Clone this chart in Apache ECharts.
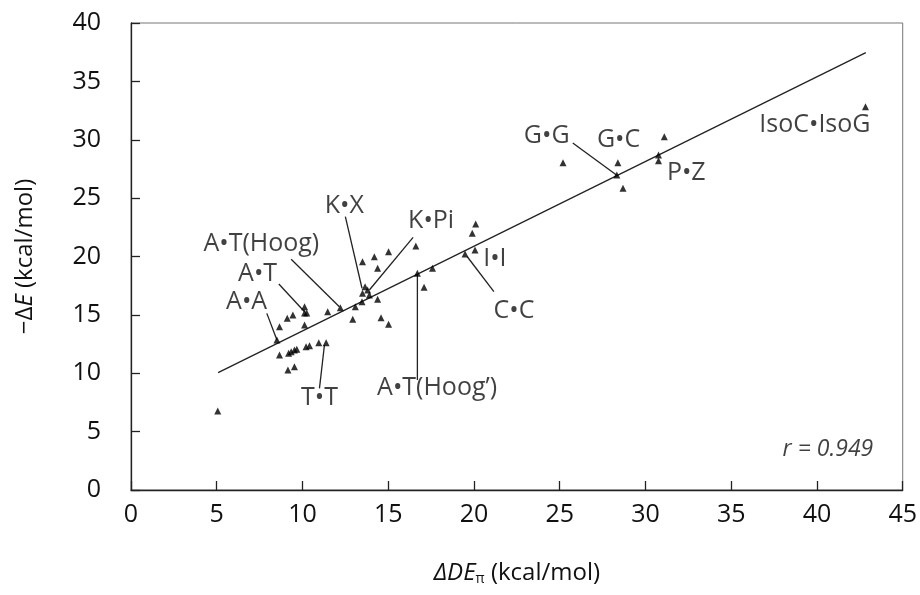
<!DOCTYPE html>
<html>
<head>
<meta charset="utf-8">
<script src="https://cdn.jsdelivr.net/npm/echarts@6/dist/echarts.min.js"></script>
<style>
  html, body { margin: 0; padding: 0; background: #fff; }
  #chart { width: 920px; height: 595px; }
</style>
</head>
<body>
<div id="chart"></div>
<script>
  // 数据点 (ΔDEπ, -ΔE)
  var dePi = [5.06, 8.51, 8.66, 9.11, 9.44, 10.12, 10.12, 10.25, 10.12, 11.47, 12.21, 12.93, 13.08, 13.47,
    13.5, 13.65, 13.8, 13.9, 14.38, 14.58, 15.02, 13.5, 14.19, 14.38, 15.02, 16.61, 16.7, 17.09, 17.58,
    19.48, 20.06, 19.9, 20.1, 8.66, 9.19, 9.34, 9.53, 9.67, 10.21, 10.41, 10.95, 11.38, 9.15, 9.53,
    25.19, 28.39, 28.33, 28.69, 30.76, 30.76, 31.1, 42.83]
  var dE = [6.77, 12.85, 13.99, 14.71, 14.99, 15.7, 15.16, 15.16, 14.13, 15.27, 15.61, 14.62, 15.7, 16.13,
    16.85, 17.41, 17.13, 16.7, 16.33, 14.76, 14.19, 19.55, 19.98, 18.99, 20.41, 20.9, 18.56, 17.36, 18.99,
    20.21, 20.56, 21.99, 22.78, 11.56, 11.71, 11.85, 11.99, 12.05, 12.27, 12.36, 12.62, 12.62, 10.28, 10.56,
    28.03, 28.03, 26.98, 25.84, 28.69, 28.2, 30.26, 32.83]

  // 回归线端点
  var fitX = [5.08, 42.85]
  var fitY = [10.05, 37.46]

  // 标注文字及位置
  var labelNames = ['G•G', 'G•C', 'P•Z', 'IsoC•IsoG', 'K•X', 'K•Pi', 'A•T(Hoog)', 'A•T', 'A•A',
    'T•T', 'A•T(Hoog’)', 'C•C', 'I•I']
  var labelX = [24.24, 28.43, 32.38, 39.88, 12.44, 17.5, 7.6, 7.38, 6.74, 10.99, 17.85, 22.33, 21.22]
  var labelY = [30.32, 29.98, 27.15, 31.26, 24.33, 23.04, 21.07, 18.5, 16.1, 7.88, 8.74, 15.33, 19.79]

  // 引线 [x1, y1, x2, y2]
  var leaders = [
    [25.76, 29.72, 28.31, 26.98],
    [12.5, 23.41, 13.47, 17.28],
    [16.45, 21.64, 13.9, 17.13],
    [9.34, 19.76, 12.15, 15.7],
    [8.62, 17.64, 10.12, 15.27],
    [7.92, 15.13, 8.51, 12.85],
    [10.99, 8.71, 11.28, 12.42],
    [16.7, 9.42, 16.7, 18.5],
    [21.16, 16.99, 19.61, 19.98]
  ]

  var xTicks = [0, 45, 5]
  var yTicks = [0, 40, 5]

  var font = 'Open Sans'
  var chart = echarts.init(document.getElementById('chart'))

  var points = dePi.map(function (x, i) { return [x, dE[i]] })
  var labelData = labelNames.map(function (n, i) { return { name: n, value: [labelX[i], labelY[i]] } })
  var leaderSeries = leaders.map(function (l) {
    return {
      type: 'line',
      data: [[l[0], l[1]], [l[2], l[3]]],
      symbol: 'none',
      silent: true,
      lineStyle: { color: '#222', width: 1.3 },
      z: 3
    }
  })

  var option = {
    animation: false,
    grid: {
      left: 131, right: 15, top: 23, bottom: 105,
      show: true, borderColor: '#777', borderWidth: 1
    },
    xAxis: {
      type: 'value',
      min: xTicks[0], max: xTicks[1], interval: xTicks[2],
      splitLine: { show: false },
      axisLine: { onZero: false, lineStyle: { color: '#222', width: 1.3 } },
      axisTick: { inside: true, length: 9, lineStyle: { color: '#222', width: 1.3 } },
      axisLabel: { color: '#111', fontSize: 25, fontFamily: font, margin: 12 },
      name: '{i|ΔDE}{s|π}{n| (kcal/mol)}',
      nameLocation: 'middle',
      nameGap: 70,
      nameTextStyle: {
        rich: {
          n: { fontSize: 24, fontFamily: font, color: '#111' },
          i: { fontSize: 24, fontStyle: 'italic', fontFamily: font, color: '#111' },
          s: { fontSize: 14, fontFamily: font, color: '#111', verticalAlign: 'bottom', padding: [12, 0, 0, 0] }
        }
      }
    },
    yAxis: {
      type: 'value',
      min: yTicks[0], max: yTicks[1], interval: yTicks[2],
      splitLine: { show: false },
      axisLine: { onZero: false, lineStyle: { color: '#222', width: 1.3 } },
      axisTick: { inside: true, length: 9, lineStyle: { color: '#222', width: 1.3 } },
      axisLabel: { color: '#111', fontSize: 25, fontFamily: font, margin: 30 },
      name: '{n|−Δ}{i|E}{n| (kcal/mol)}',
      nameLocation: 'middle',
      nameGap: 94,
      nameRotate: 90,
      nameTextStyle: {
        rich: {
          n: { fontSize: 24, fontFamily: font, color: '#111' },
          i: { fontSize: 24, fontStyle: 'italic', fontFamily: font, color: '#111' }
        }
      }
    },
    series: [
      {
        type: 'line',
        data: [[fitX[0], fitY[0]], [fitX[1], fitY[1]]],
        symbol: 'none',
        silent: true,
        lineStyle: { color: '#222', width: 1.3 },
        z: 2
      },
      {
        type: 'scatter',
        data: points,
        symbol: 'triangle',
        symbolSize: 7,
        itemStyle: { color: '#000' },
        z: 4
      },
      {
        type: 'scatter',
        data: labelData,
        symbolSize: 0,
        silent: true,
        label: {
          show: true,
          position: 'inside',
          formatter: '{b}',
          fontSize: 25,
          fontFamily: font,
          color: '#111'
        },
        z: 5
      },
      {
        type: 'scatter',
        data: [{ name: 'r = 0.949', value: [40.64, 3.51] }],
        symbolSize: 0,
        silent: true,
        label: {
          show: true,
          position: 'inside',
          formatter: '{b}',
          fontSize: 23,
          fontStyle: 'italic',
          fontFamily: font,
          color: '#111'
        },
        z: 5
      }
    ].concat(leaderSeries)
  }
  chart.setOption(option)
</script>
</body>
</html>
